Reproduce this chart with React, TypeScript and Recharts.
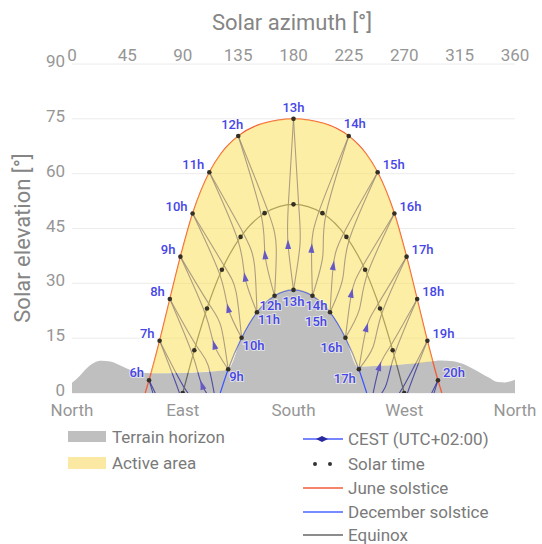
import { Area, CartesianGrid, ComposedChart, Label, Line, XAxis, YAxis } from 'recharts'

// azimuth in degrees from north, elevation in degrees
const AZIMUTH_TICKS = [0, 45, 90, 135, 180, 225, 270, 315, 360]
const ELEVATION_TICKS = [0, 15, 30, 45, 60, 75, 90]
const COMPASS_TICKS = [0, 90, 180, 270, 360]
const COMPASS_LABELS = ['North', 'East', 'South', 'West', 'North']

// terrain horizon, raised by the december path where that is higher
const TERRAIN: [number, number][] = [
  [0, 2.8], [6, 4.6], [12, 6.8], [18, 8.3], [24, 8.8], [31, 8.6], [38, 7.7], [45, 6.6],
  [52, 5.8], [60, 5.5], [75, 5.4], [90, 5.5], [105, 5.7], [118, 6.0], [126.9, 6.5],
  [137.8, 15.1], [150.3, 22.1], [164.6, 26.6], [180, 28.2], [195.4, 26.6], [209.7, 22.1],
  [222.2, 15.1], [232.2, 7.2], [245, 7.4], [260, 7.6], [275, 8.0], [290, 8.6], [300, 8.9],
  [310, 8.7], [318, 7.9], [325, 6.8], [332, 5.5], [339, 4.2], [346, 3.0], [352, 2.9], [360, 3.6],
]

// active area: [azimuth, lower, upper]
const ACTIVE_AREA: [number, number, number][] = [
  [64.0, 5.4, 5.4], [71.2, 5.4, 14.3], [79.5, 5.5, 25.7], [88.1, 5.5, 37.3], [98.0, 5.6, 49.1],
  [111.6, 5.9, 60.4], [121.5, 6.1, 65.7], [126.9, 6.5, 67.8], [135.1, 13.1, 70.3],
  [137.8, 15.1, 70.9], [150.3, 22.1, 73.1], [154.6, 23.6, 73.7], [164.6, 26.6, 74.5],
  [180, 28.2, 75.0], [195.4, 26.6, 74.5], [205.4, 23.6, 73.7], [209.7, 22.1, 73.1],
  [222.2, 15.1, 70.9], [224.9, 13.1, 70.3], [232.2, 7.2, 68.0], [238.5, 7.3, 65.7],
  [248.4, 7.4, 60.4], [262.0, 7.6, 49.1], [271.9, 7.9, 37.3], [280.5, 8.1, 25.7],
  [288.8, 8.5, 14.3], [293.3, 8.7, 8.7],
]

const JUNE_PATH: [number, number][] = [
  [59.5, 0], [62.6, 3.5], [71.2, 14.3], [79.5, 25.7], [88.1, 37.3], [98.0, 49.1], [111.6, 60.4],
  [121.5, 65.7], [135.1, 70.3], [154.6, 73.7], [180, 75.0], [205.4, 73.7], [224.9, 70.3],
  [238.5, 65.7], [248.4, 60.4], [262.0, 49.1], [271.9, 37.3], [280.5, 25.7], [288.8, 14.3],
  [297.4, 3.5], [300.5, 0],
]
const DECEMBER_PATH: [number, number][] = [
  [120.5, 0], [126.9, 6.5], [137.8, 15.1], [150.3, 22.1], [164.6, 26.6], [180, 28.2],
  [195.4, 26.6], [209.7, 22.1], [222.2, 15.1], [233.1, 6.5], [239.5, 0],
]
const EQUINOX_PATH: [number, number][] = [
  [90, 0], [99.4, 11.7], [109.7, 23.1], [121.8, 33.7], [137.0, 42.7], [156.5, 49.2], [180, 51.6],
  [203.5, 49.2], [223.0, 42.7], [238.2, 33.7], [250.3, 23.1], [260.6, 11.7], [270, 0],
]

const JUNE_HOURS = ['6h', '7h', '8h', '9h', '10h', '11h', '12h', '13h', '14h', '15h', '16h', '17h', '18h', '19h', '20h']
const JUNE_HOUR_POINTS: [number, number][] = [
  [62.6, 3.5], [71.2, 14.3], [79.5, 25.7], [88.1, 37.3], [98.0, 49.1], [111.6, 60.4], [135.1, 70.3],
  [180, 75.0], [224.9, 70.3], [248.4, 60.4], [262.0, 49.1], [271.9, 37.3], [280.5, 25.7],
  [288.8, 14.3], [297.4, 3.5],
]
const DECEMBER_HOURS = ['9h', '10h', '11h', '12h', '13h', '14h', '15h', '16h', '17h']
const DECEMBER_HOUR_POINTS: [number, number][] = [
  [126.9, 6.5], [137.8, 15.1], [150.3, 22.1], [164.6, 26.6], [180, 28.2], [195.4, 26.6],
  [209.7, 22.1], [222.2, 15.1], [233.1, 6.5],
]
const EQUINOX_HOUR_POINTS: [number, number][] = [
  [90, 0], [99.4, 11.7], [109.7, 23.1], [121.8, 33.7], [137.0, 42.7], [156.5, 49.2], [180, 51.6],
  [203.5, 49.2], [223.0, 42.7], [238.2, 33.7], [250.3, 23.1], [260.6, 11.7], [270, 0],
]

// CEST hour lines (analemma halves), june -> equinox -> february/november -> december
const SPRING_LINES: [number, number][][] = [
  [[62.6, 3.5], [79.35, -13.15], [100.5, -25.7]],
  [[71.2, 14.3], [88.8, -1.47], [96.6, -9.49], [108.8, -14.3]],
  [[79.5, 25.7], [98.2, 10.25], [105.8, 2.03], [117.4, -3.5]],
  [[88.1, 37.3], [108.3, 21.68], [115.7, 13.03], [126.9, 6.5]],
  [[98.0, 49.1], [120.1, 32.38], [127.0, 23.05], [137.8, 15.1]],
  [[111.6, 60.4], [134.9, 41.72], [140.6, 31.56], [150.3, 22.1]],
  [[135.1, 70.3], [153.8, 48.59], [156.9, 37.69], [164.6, 26.6]],
  [[180, 75.0], [175.8, 51.56], [175.6, 40.5], [180, 28.2]],
  [[224.9, 70.3], [200.8, 49.75], [194.7, 39.44], [195.4, 26.6]],
  [[248.4, 60.4], [220.8, 43.72], [212.3, 34.73], [209.7, 22.1]],
  [[262.0, 49.1], [236.5, 34.89], [227.1, 27.19], [222.2, 15.1]],
  [[271.9, 37.3], [248.9, 24.45], [239.3, 17.79], [233.1, 6.5]],
  [[280.5, 25.7], [259.35, 13.15], [249.8, 7.18], [242.6, -3.5]],
  [[288.8, 14.3], [268.8, 1.47], [259.2, -4.14], [251.2, -14.3]],
  [[297.4, 3.5], [278.23, -10.25], [259.5, -25.7]],
]
const AUTUMN_LINES: [number, number][][] = [
  [[62.6, 3.5], [81.77, -10.25], [100.5, -25.7]],
  [[71.2, 14.3], [91.2, 1.47], [101.1, -3.72], [108.8, -14.3]],
  [[79.5, 25.7], [100.65, 13.15], [110.6, 7.58], [117.4, -3.5]],
  [[88.1, 37.3], [111.1, 24.45], [121.1, 18.16], [126.9, 6.5]],
  [[98.0, 49.1], [123.5, 34.89], [133.4, 27.52], [137.8, 15.1]],
  [[111.6, 60.4], [139.2, 43.72], [148.3, 34.95], [150.3, 22.1]],
  [[135.1, 70.3], [159.2, 49.75], [166.0, 39.55], [164.6, 26.6]],
  [[180, 75.0], [184.2, 51.56], [185.25, 40.46], [180, 28.2]],
  [[224.9, 70.3], [206.2, 48.59], [203.8, 37.51], [195.4, 26.6]],
  [[248.4, 60.4], [225.1, 41.72], [220.0, 31.29], [209.7, 22.1]],
  [[262.0, 49.1], [239.9, 32.38], [233.4, 22.72], [222.2, 15.1]],
  [[271.9, 37.3], [251.7, 21.68], [244.7, 12.64], [233.1, 6.5]],
  [[280.5, 25.7], [261.8, 10.25], [254.6, 1.62], [242.6, -3.5]],
  [[288.8, 14.3], [271.2, -1.47], [263.8, -9.92], [251.2, -14.3]],
  [[297.4, 3.5], [280.65, -13.15], [259.5, -25.7]],
]
// direction arrows on the spring halves
const CEST_ARROWS: [number, number][] = [
  [105.8, 2.03], [115.7, 13.03], [127.0, 23.05], [140.6, 31.56], [156.9, 37.69], [175.6, 40.5],
  [194.7, 39.44], [212.3, 34.73], [227.1, 27.19], [239.3, 17.79], [249.8, 7.18],
]

const FONT = 'Roboto, "Noto Sans", sans-serif'
const LABEL_BLUE = '#4646e6'
const TICK_STYLE = { fill: '#969696', fontSize: 17, fontFamily: FONT }

const pts = (list: [number, number][]) => list.map(([az, el]) => ({ az, el }))
const withLabels = (list: [number, number][], labels: string[]) =>
  list.map(([az, el], i) => ({ az, el, label: labels[i] }))

const terrainData = pts(TERRAIN)
const activeData = ACTIVE_AREA.map(([az, low, high]) => ({ az, range: [low, high] }))
const solarDots = pts([...JUNE_HOUR_POINTS, ...EQUINOX_HOUR_POINTS, ...DECEMBER_HOUR_POINTS])

const labelText = (x: number, y: number, anchor: string, text: string, key: number) => (
  <text
    key={key}
    x={x}
    y={y}
    textAnchor={anchor}
    fontSize={13}
    fontFamily={FONT}
    fontWeight={500}
    fill={LABEL_BLUE}
    stroke="#ffffff"
    strokeOpacity={0.55}
    strokeWidth={2}
    paintOrder="stroke"
  >
    {text}
  </text>
)

const juneLabel = (props: any) => {
  const { cx, cy, payload, index } = props
  if (cx == null || cy == null) return <g key={index} />
  if (payload.label === '13h') return labelText(cx, cy - 7, 'middle', payload.label, index)
  if (payload.label === '12h') return labelText(cx + 5, cy - 7, 'end', payload.label, index)
  if (payload.label === '14h') return labelText(cx - 5, cy - 8, 'start', payload.label, index)
  const am = payload.az < 180
  return labelText(am ? cx - 5 : cx + 5, cy - 3, am ? 'end' : 'start', payload.label, index)
}

const decemberLabel = (props: any) => {
  const { cx, cy, payload, index } = props
  if (cx == null || cy == null) return <g key={index} />
  if (payload.label === '13h') return labelText(cx, cy + 16, 'middle', payload.label, index)
  if (payload.label === '12h') return labelText(cx - 4, cy + 14, 'middle', payload.label, index)
  if (payload.label === '14h') return labelText(cx + 4, cy + 14, 'middle', payload.label, index)
  const am = payload.az < 180
  return labelText(am ? cx + 1 : cx - 3, am ? cy + 12 : cy + 14, am ? 'start' : 'end', payload.label, index)
}

const solarDot = (props: any) => {
  const { cx, cy, index } = props
  if (cx == null || cy == null) return <g key={index} />
  return <circle key={index} cx={cx} cy={cy} r={2.3} fill="#332f24" />
}

const arrowDot = (props: any) => {
  const { cx, cy, payload, index } = props
  if (cx == null || cy == null) return <g key={index} />
  const tilt = (payload.az - 180) * 0.25
  return (
    <polygon
      key={index}
      points={`${cx},${cy - 5.5} ${cx + 3},${cy + 4} ${cx - 3},${cy + 4}`}
      transform={`rotate(${tilt} ${cx} ${cy})`}
      fill="#6659c4"
    />
  )
}

const Legend = () => {
  const text = { fontSize: 17, fontFamily: FONT, fill: '#7a7a7a', dominantBaseline: 'central' as const }
  const top = 420
  return (
    <svg width={542} height={124} style={{ position: 'absolute', left: 0, top }}>
      <rect x={68} y={431 - top} width={38} height={11} fill="#bfbfbf" />
      <text x={112} y={437 - top} {...text}>Terrain horizon</text>
      <rect x={68} y={457 - top} width={38} height={12} fill="#fbe9a3" />
      <text x={112} y={463 - top} {...text}>Active area</text>

      <line x1={303} x2={343} y1={439 - top} y2={439 - top} stroke="#4a5cff" strokeWidth={1.5} />
      <polygon points={`316,${439 - top} 322,${436 - top} 328,${439 - top} 322,${442 - top}`} fill="#2a2aa0" />
      <text x={348} y={439 - top} {...text}>CEST (UTC+02:00)</text>
      <circle cx={315} cy={464 - top} r={2} fill="#333" />
      <circle cx={330} cy={464 - top} r={2} fill="#333" />
      <text x={348} y={464 - top} {...text}>Solar time</text>
      <line x1={303} x2={343} y1={488 - top} y2={488 - top} stroke="#f25c3a" strokeWidth={1.5} />
      <text x={348} y={488 - top} {...text}>June solstice</text>
      <line x1={303} x2={343} y1={512 - top} y2={512 - top} stroke="#4a66ff" strokeWidth={1.5} />
      <text x={348} y={512 - top} {...text}>December solstice</text>
      <line x1={303} x2={343} y1={535 - top} y2={535 - top} stroke="#666666" strokeWidth={1.5} />
      <text x={348} y={535 - top} {...text}>Equinox</text>
    </svg>
  )
}

export default function App() {
  return (
    <div style={{ position: 'absolute', left: 0, top: 0, width: 542, height: 544, background: '#fff', fontFamily: FONT }}>
      <ComposedChart width={542} height={420} margin={{ top: 0, right: 27, bottom: 0, left: 0 }}>
        <CartesianGrid xAxisId="bottom" vertical={false} stroke="#ececec" />
        <XAxis
          xAxisId="bottom"
          dataKey="az"
          type="number"
          domain={[0, 360]}
          ticks={COMPASS_TICKS}
          interval={0}
          tickFormatter={(v: number) => COMPASS_LABELS[COMPASS_TICKS.indexOf(v)] ?? ''}
          axisLine={false}
          tickLine={false}
          tickSize={0}
          tickMargin={11}
          height={27}
          tick={TICK_STYLE}
          allowDataOverflow
        />
        <XAxis
          xAxisId="top"
          orientation="top"
          dataKey="az"
          type="number"
          domain={[0, 360]}
          ticks={AZIMUTH_TICKS}
          interval={0}
          axisLine={false}
          tickLine={false}
          tickSize={0}
          tickMargin={3}
          height={64}
          tick={TICK_STYLE}
          allowDataOverflow
        >
          <Label
            content={() => (
              <text x={292} y={22} textAnchor="middle" dominantBaseline="central" fontSize={22} fontFamily={FONT} fill="#858585">
                Solar azimuth [°]
              </text>
            )}
          />
        </XAxis>
        <YAxis
          type="number"
          domain={[0, 90]}
          ticks={ELEVATION_TICKS}
          interval={0}
          width={72}
          axisLine={false}
          tickLine={false}
          tickSize={0}
          tickMargin={7}
          tick={{ ...TICK_STYLE, dy: -3 }}
          allowDataOverflow
        >
          <Label
            content={() => (
              <text
                x={22}
                y={238}
                transform="rotate(-90 22 238)"
                textAnchor="middle"
                dominantBaseline="central"
                fontSize={22}
                fontFamily={FONT}
                fill="#858585"
              >
                Solar elevation [°]
              </text>
            )}
          />
        </YAxis>

        {/* keeps the top azimuth axis bound to a series */}
        <Line xAxisId="top" data={pts(JUNE_PATH)} dataKey="el" stroke="none" dot={false} activeDot={false} isAnimationActive={false} />

        <Area
          xAxisId="bottom"
          data={terrainData}
          dataKey="el"
          type="monotone"
          fill="#bfbfbf"
          fillOpacity={1}
          stroke="none"
          isAnimationActive={false}
          zIndex={100}
        />

        {SPRING_LINES.map((line, i) => (
          <Line
            key={`s${i}`}
            xAxisId="bottom"
            data={pts(line)}
            dataKey="el"
            type="natural"
            stroke="#28289a"
            strokeOpacity={0.75}
            strokeWidth={1.1}
            dot={false}
            activeDot={false}
            isAnimationActive={false}
            zIndex={200}
          />
        ))}
        {AUTUMN_LINES.map((line, i) => (
          <Line
            key={`a${i}`}
            xAxisId="bottom"
            data={pts(line)}
            dataKey="el"
            type="natural"
            stroke="#28289a"
            strokeOpacity={0.75}
            strokeWidth={1.1}
            dot={false}
            activeDot={false}
            isAnimationActive={false}
            zIndex={200}
          />
        ))}

        <Line xAxisId="bottom" data={pts(EQUINOX_PATH)} dataKey="el" type="monotone" stroke="#666666" strokeWidth={1.2} dot={false} activeDot={false} isAnimationActive={false} zIndex={300} />
        <Line xAxisId="bottom" data={pts(DECEMBER_PATH)} dataKey="el" type="monotone" stroke="#3a55ff" strokeWidth={1.2} dot={false} activeDot={false} isAnimationActive={false} zIndex={300} />
        <Line xAxisId="bottom" data={pts(JUNE_PATH)} dataKey="el" type="monotone" stroke="#f25c3a" strokeWidth={1.3} dot={false} activeDot={false} isAnimationActive={false} zIndex={300} />

        <Area
          xAxisId="bottom"
          data={activeData}
          dataKey="range"
          type="monotone"
          fill="#fbdd4b"
          fillOpacity={0.5}
          stroke="none"
          isAnimationActive={false}
          zIndex={450}
        />

        <Line xAxisId="bottom" data={pts(CEST_ARROWS)} dataKey="el" stroke="none" dot={arrowDot} activeDot={false} isAnimationActive={false} zIndex={600} />
        <Line xAxisId="bottom" data={solarDots} dataKey="el" stroke="none" dot={solarDot} activeDot={false} isAnimationActive={false} zIndex={650} />
        <Line xAxisId="bottom" data={withLabels(JUNE_HOUR_POINTS, JUNE_HOURS)} dataKey="el" stroke="none" dot={juneLabel} activeDot={false} isAnimationActive={false} zIndex={700} />
        <Line xAxisId="bottom" data={withLabels(DECEMBER_HOUR_POINTS, DECEMBER_HOURS)} dataKey="el" stroke="none" dot={decemberLabel} activeDot={false} isAnimationActive={false} zIndex={700} />
      </ComposedChart>
      <Legend />
    </div>
  )
}
